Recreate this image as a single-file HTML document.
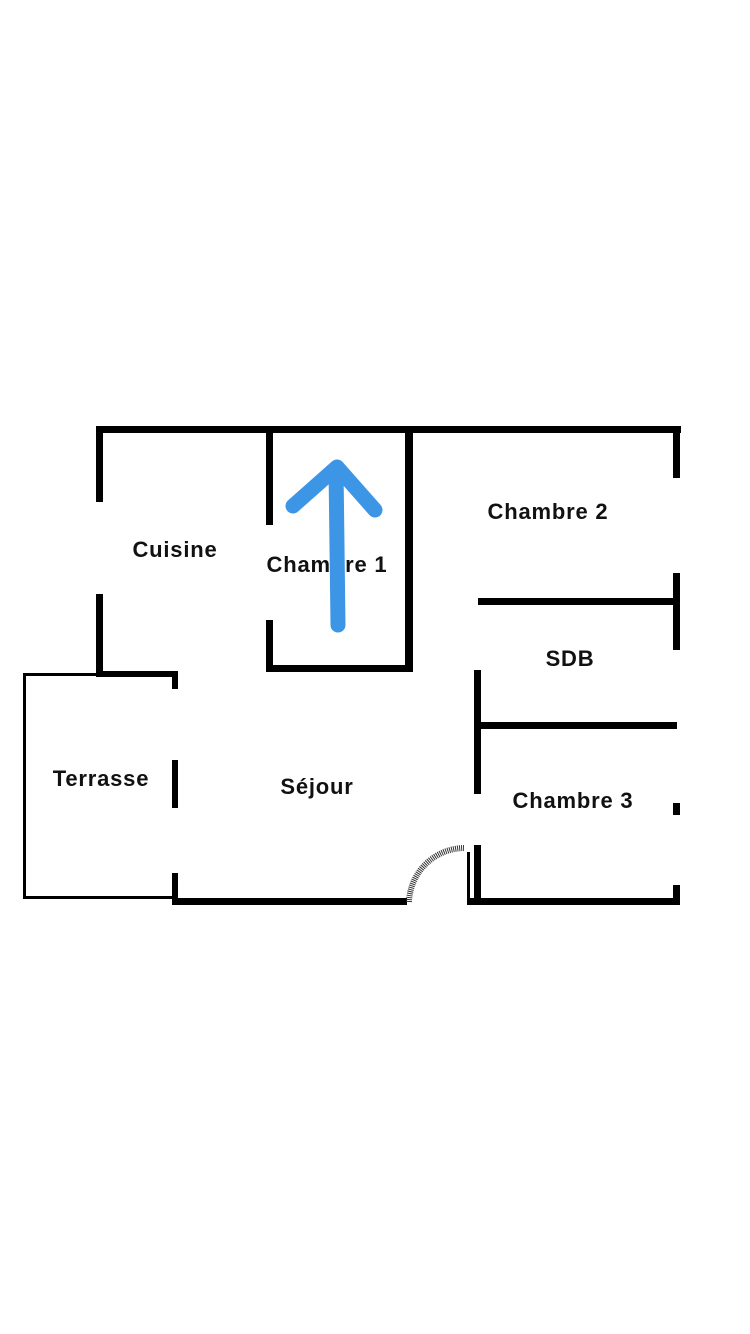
<!DOCTYPE html>
<html><head><meta charset="utf-8"><style>
html,body{margin:0;padding:0;background:#fff;}
svg{display:block}
text{font-family:"Liberation Sans",sans-serif;font-size:22px;font-weight:bold;fill:#111;dominant-baseline:middle;text-anchor:middle;letter-spacing:0.8px}
</style></head><body>
<svg width="750" height="1334" viewBox="0 0 750 1334">
<g fill="#000">
<rect x="96" y="426" width="585" height="7"/>
<rect x="96" y="426" width="7" height="76"/>
<rect x="96" y="594" width="7" height="83"/>
<rect x="96" y="671" width="82" height="6"/>
<rect x="172" y="671" width="6" height="18"/>
<rect x="266" y="430" width="7" height="95"/>
<rect x="266" y="620" width="7" height="52"/>
<rect x="266" y="665" width="147" height="7"/>
<rect x="405" y="430" width="8" height="242"/>
<rect x="673" y="426" width="7" height="52"/>
<rect x="673" y="573" width="7" height="77"/>
<rect x="478" y="598" width="202" height="7"/>
<rect x="478" y="722" width="199" height="7"/>
<rect x="474" y="670" width="7" height="124"/>
<rect x="673" y="803" width="7" height="12"/>
<rect x="673" y="885" width="7" height="20"/>
<rect x="467" y="898" width="213" height="7"/>
<rect x="474" y="845" width="7" height="60"/>
<rect x="467" y="852" width="3" height="50"/>
<rect x="172" y="898" width="235" height="7"/>
<rect x="172" y="873" width="6" height="32"/>
<rect x="172" y="760" width="6" height="48"/>
<rect x="23" y="673" width="77" height="3"/>
<rect x="23" y="673" width="3" height="226"/>
<rect x="23" y="896" width="152" height="3"/>
</g>
<path d="M409 902 A56 56 0 0 1 464 848" fill="none" stroke="#333" stroke-width="6" stroke-dasharray="1 1"/>
<text x="175" y="551">Cuisine</text>
<text x="327" y="566">Chambre 1</text>
<text x="548" y="513">Chambre 2</text>
<text x="570" y="660">SDB</text>
<text x="101" y="780">Terrasse</text>
<text x="317" y="788">Séjour</text>
<text x="573" y="802">Chambre 3</text>
<g stroke="#3d95e6" stroke-width="15" stroke-linecap="round" stroke-linejoin="round" fill="none">
<path d="M338 625 L336 468"/>
<path d="M293 506 L337 467 L375 510"/>
</g>
</svg>
</body></html>
